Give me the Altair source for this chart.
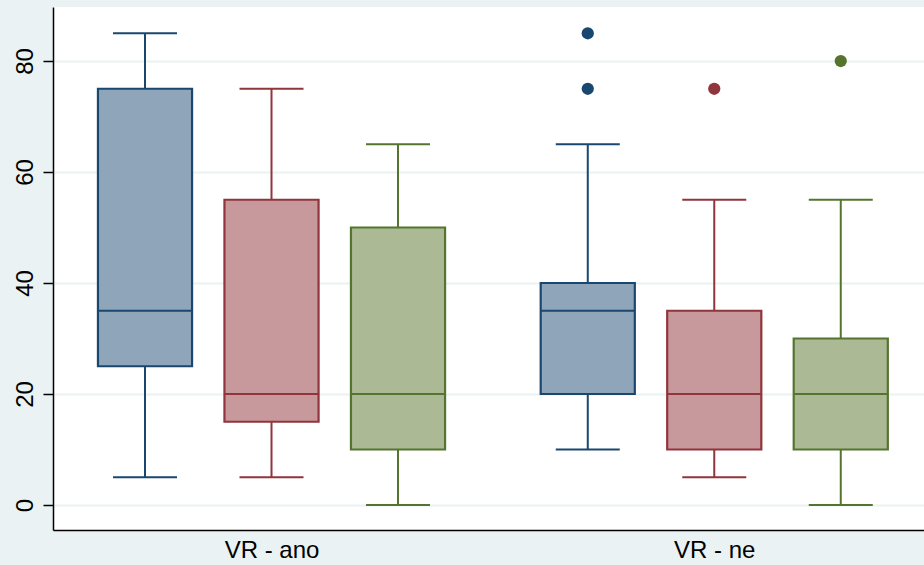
import altair as alt
import pandas as pd

# Box-plot summary values per group and series
groups = ["VR - ano", "VR - ne"]
series = ["s1", "s2", "s3"]
lower_whisker = [5, 5, 0, 10, 5, 0]
q1 = [25, 15, 10, 20, 10, 10]
median = [35, 20, 20, 35, 20, 20]
q3 = [75, 55, 50, 40, 35, 30]
upper_whisker = [85, 75, 65, 65, 55, 55]
# outside values: (box index, value)
outlier_box = [3, 3, 4, 5]
outlier_value = [75, 85, 75, 80]
y_ticks = [0, 20, 40, 60, 80]

# Stata s2color-like palette
strokes = ["#1a476f", "#90353b", "#55752f"]
fills = ["#8fa5b9", "#c8999c", "#abba95"]
bg = "#eaf2f3"

# slot positions along x: three boxes per group, wider gap between groups
group_gap = 1.5
slot = []
for gi, g in enumerate(groups):
    for si, s in enumerate(series):
        slot.append(1 + si + gi * (len(series) - 1 + group_gap))
group_centre = [1 + (len(series) - 1) / 2 + gi * (len(series) - 1 + group_gap) for gi in range(len(groups))]

box_half = 0.372
cap_half = 0.253

rows = []
for i in range(len(slot)):
    gi, si = divmod(i, len(series))
    rows.append(dict(
        group=groups[gi], series=series[si], x=slot[i],
        xl=slot[i] - box_half, xr=slot[i] + box_half,
        cl=slot[i] - cap_half, cr=slot[i] + cap_half,
        lo=lower_whisker[i], q1=q1[i], med=median[i], q3=q3[i], hi=upper_whisker[i],
    ))
df = pd.DataFrame(rows)
out = pd.DataFrame(dict(
    x=[slot[b] for b in outlier_box],
    series=[series[b % len(series)] for b in outlier_box],
    v=outlier_value,
))

xdom = [0.2727, 7.158]
ydom = [-4.5, 89.73]
xs = alt.Scale(domain=xdom, nice=False, zero=False)
ys = alt.Scale(domain=ydom, nice=False, zero=False)
stroke_scale = alt.Scale(domain=series, range=strokes)
fill_scale = alt.Scale(domain=series, range=fills)

label_expr = " : ".join(
    f"datum.value == {c} ? '{g}'" for c, g in zip(group_centre, groups)
) + " : ''"

x_axis = alt.Axis(values=group_centre, labelExpr=label_expr, ticks=False, grid=False,
                  title=None, labelFontSize=24, labelFont="Liberation Sans",
                  labelColor="black", labelPadding=8, domainColor="black", domainWidth=1.5)
y_axis = alt.Axis(values=y_ticks, title=None, labelAngle=270, labelFontSize=24,
                  labelFont="Liberation Sans", labelColor="black", tickSize=10,
                  tickColor="black", tickWidth=1.5, labelPadding=6,
                  domainColor="black", domainWidth=1.5,
                  grid=True, gridColor=bg, gridWidth=2)

base = alt.Chart(df)

axes = base.mark_point(opacity=0).encode(
    x=alt.X("x:Q", scale=xs, axis=x_axis),
    y=alt.Y("med:Q", scale=ys, axis=y_axis),
)

whisk_lo = base.mark_rule(strokeWidth=2).encode(
    x=alt.X("x:Q", scale=xs), y=alt.Y("lo:Q", scale=ys), y2="q1:Q",
    color=alt.Color("series:N", scale=stroke_scale, legend=None))
whisk_hi = base.mark_rule(strokeWidth=2).encode(
    x=alt.X("x:Q", scale=xs), y=alt.Y("q3:Q", scale=ys), y2="hi:Q",
    color=alt.Color("series:N", scale=stroke_scale, legend=None))
cap_lo = base.mark_rule(strokeWidth=2).encode(
    x=alt.X("cl:Q", scale=xs), x2="cr:Q", y=alt.Y("lo:Q", scale=ys),
    color=alt.Color("series:N", scale=stroke_scale, legend=None))
cap_hi = base.mark_rule(strokeWidth=2).encode(
    x=alt.X("cl:Q", scale=xs), x2="cr:Q", y=alt.Y("hi:Q", scale=ys),
    color=alt.Color("series:N", scale=stroke_scale, legend=None))
boxes = base.mark_rect(strokeWidth=2.2).encode(
    x=alt.X("xl:Q", scale=xs), x2="xr:Q",
    y=alt.Y("q1:Q", scale=ys), y2="q3:Q",
    fill=alt.Fill("series:N", scale=fill_scale, legend=None),
    stroke=alt.Stroke("series:N", scale=stroke_scale, legend=None))
medians = base.mark_rule(strokeWidth=2.2).encode(
    x=alt.X("xl:Q", scale=xs), x2="xr:Q", y=alt.Y("med:Q", scale=ys),
    color=alt.Color("series:N", scale=stroke_scale, legend=None))
points = alt.Chart(out).mark_circle(size=150, opacity=1).encode(
    x=alt.X("x:Q", scale=xs), y=alt.Y("v:Q", scale=ys),
    color=alt.Color("series:N", scale=stroke_scale, legend=None))

chart = alt.layer(axes, whisk_lo, whisk_hi, cap_lo, cap_hi, boxes, medians, points).properties(
    width=871, height=523,
    background=bg,
    padding={"left": 53, "top": 7, "right": 0, "bottom": 35},
    autosize=alt.AutoSizeParams(type="none"),
).configure_view(fill="white", stroke=None)

chart.save("out.html", embed_options={"renderer": "svg", "actions": False})
